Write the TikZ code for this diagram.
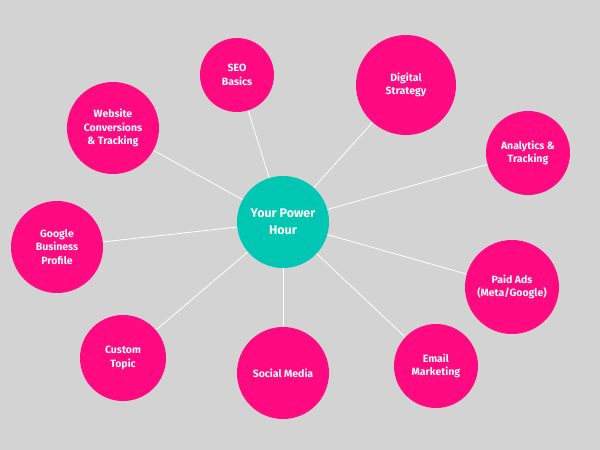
\documentclass[tikz,border=0pt]{standalone}
\usepackage{fontspec}
\setmainfont{Fira Sans}
\usetikzlibrary{backgrounds}
\definecolor{bggray}{HTML}{D3D3D3}
\definecolor{hotpink}{HTML}{FF0A80}
\definecolor{teal}{HTML}{00C7B4}

\begin{document}
\begin{tikzpicture}[x=1pt,y=-1pt,
  topic/.style={circle,fill=hotpink,text=white,font=\bfseries\fontsize{10.5}{13.5}\selectfont,align=center,inner sep=0pt},
  hub/.style={circle,fill=teal,text=white,font=\bfseries\fontsize{12.5}{16.5}\selectfont,align=center,minimum size=92pt},
  spoke/.style={draw=white,line width=0.8pt}]
  \useasboundingbox (0,0) rectangle (600,450);

  \node[hub] (hub) at (283,222) {Your Power\\Hour};

  \node[topic,minimum size=74pt] (seo) at (237,75) {SEO\\Basics};
  \node[topic,minimum size=100pt] (strat) at (406,85) {Digital\\Strategy};
  \node[topic,minimum size=84pt] (anal) at (528,153) {Analytics \&\\Tracking};
  \node[topic,minimum size=94pt] (ads) at (512,287) {Paid Ads\\(Meta/Google)};
  \node[topic,minimum size=84pt] (mail) at (436,366) {Email\\Marketing};
  \node[topic,minimum size=92pt] (social) at (283,373) {Social Media};
  \node[topic,minimum size=86pt] (custom) at (123,358) {Custom\\Topic};
  \node[topic,minimum size=92pt] (gbp) at (57,247) {Google\\Business\\Profile};
  \node[topic,minimum size=92pt] (web) at (113,128) {Website\\Conversions\\\& Tracking};

  \begin{scope}[on background layer]
    \fill[bggray] (0,0) rectangle (600,450);
    \foreach \t in {seo,strat,anal,ads,mail,social,custom,gbp,web}
      \draw[spoke] (hub.center) -- (\t.center);
  \end{scope}
\end{tikzpicture}
\end{document}
